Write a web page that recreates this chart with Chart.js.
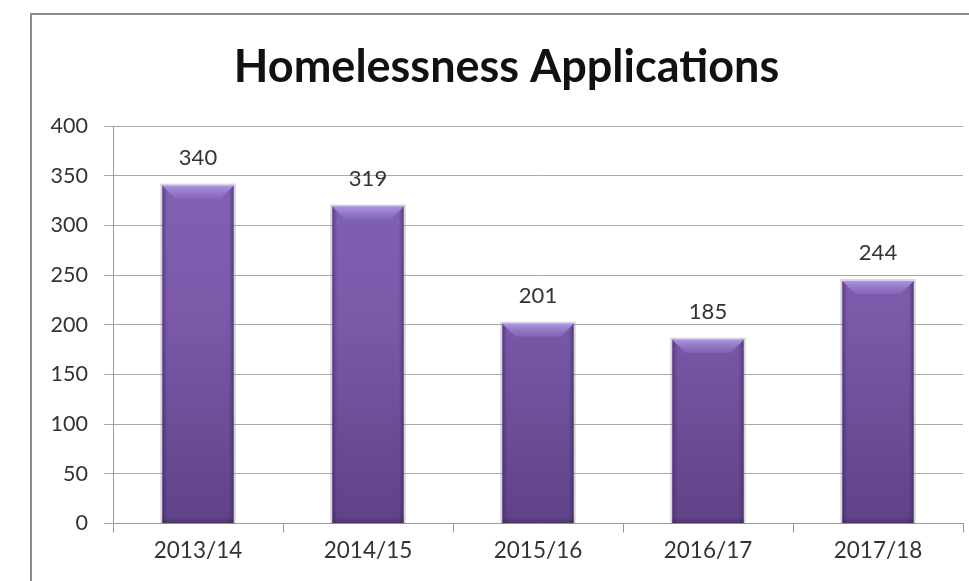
<!DOCTYPE html>
<html>
<head>
<meta charset="utf-8">
<script src="https://cdn.jsdelivr.net/npm/chart.js@4"></script>
<style>
  html, body { margin: 0; padding: 0; background: #fff; overflow: hidden; }
  #wrap { position: relative; width: 969px; height: 581px; }
  #frame { position: absolute; left: 30px; top: 13px; width: 1000px; height: 700px; border: 2px solid #8c8c8c; box-sizing: border-box; }
  #chart { position: absolute; left: 0; top: 0; }
</style>
</head>
<body>
<div id="wrap">
  <div id="frame"></div>
  <canvas id="chart" width="969" height="581"></canvas>
</div>
<script>
const years = ["2013/14", "2014/15", "2015/16", "2016/17", "2017/18"];
const applications = [340, 319, 201, 185, 244];
const yTicks = [0, 50, 100, 150, 200, 250, 300, 350, 400];

const FONT = "Lato, 'Open Sans', sans-serif";

function barFill(ctx) {
  const area = ctx.chart.chartArea;
  if (!area) return "#7a5aa8";
  const g = ctx.chart.ctx.createLinearGradient(0, area.top, 0, area.bottom);
  g.addColorStop(0, "#8464b5");
  g.addColorStop(0.5, "#7959a8");
  g.addColorStop(1, "#5f4287");
  return g;
}

// bevelled top, shaded sides and value labels
const bevelPlugin = {
  id: "bevel",
  beforeDatasetsDraw(chart) {
    const c = chart.ctx;
    chart.getDatasetMeta(0).data.forEach((bar) => {
      const l = bar.x - bar.width / 2;
      c.save();
      c.strokeStyle = "rgba(120,120,120,0.3)";
      c.lineWidth = 2;
      c.strokeRect(l - 1, bar.y - 1, bar.width + 2, bar.base - bar.y + 1);
      c.restore();
    });
  },
  afterDatasetsDraw(chart) {
    const c = chart.ctx;
    const meta = chart.getDatasetMeta(0);
    meta.data.forEach((bar, i) => {
      const l = bar.x - bar.width / 2;
      const r = bar.x + bar.width / 2;
      const t = bar.y;
      const b = bar.base;
      const d = 13;
      const s = 5;
      c.save();
      // side edges
      const lg = c.createLinearGradient(l, 0, l + s, 0);
      lg.addColorStop(0, "rgba(55,30,90,0.5)");
      lg.addColorStop(1, "rgba(55,30,90,0)");
      c.fillStyle = lg;
      c.fillRect(l, t, s, b - t);
      const rg = c.createLinearGradient(r - s, 0, r, 0);
      rg.addColorStop(0, "rgba(55,30,90,0)");
      rg.addColorStop(1, "rgba(55,30,90,0.5)");
      c.fillStyle = rg;
      c.fillRect(r - s, t, s, b - t);
      // bottom edge
      const bg = c.createLinearGradient(0, b - 6, 0, b);
      bg.addColorStop(0, "rgba(55,30,90,0)");
      bg.addColorStop(1, "rgba(55,30,90,0.4)");
      c.fillStyle = bg;
      c.fillRect(l, b - 6, bar.width, 6);
      // top bevel
      const tg = c.createLinearGradient(0, t, 0, t + d);
      tg.addColorStop(0, "#ad95e2");
      tg.addColorStop(1, "rgba(150,122,205,0.35)");
      c.fillStyle = tg;
      c.beginPath();
      c.moveTo(l, t);
      c.lineTo(r, t);
      c.lineTo(r - d, t + d);
      c.lineTo(l + d, t + d);
      c.closePath();
      c.fill();
      // value label
      c.fillStyle = "#333";
      c.font = "22px " + FONT;
      c.textAlign = "center";
      c.textBaseline = "middle";
      c.fillText(String(applications[i]), bar.x, t - 28);
      c.restore();
    });
  }
};

new Chart(document.getElementById("chart"), {
  type: "bar",
  data: {
    labels: years,
    datasets: [{
      data: applications,
      backgroundColor: barFill,
      borderWidth: 0,
      categoryPercentage: 1,
      barPercentage: 0.42
    }]
  },
  options: {
    responsive: false,
    animation: false,
    layout: { padding: { left: 50, right: 6, top: 0, bottom: 0 } },
    plugins: {
      legend: { display: false },
      tooltip: { enabled: false },
      title: {
        display: true,
        text: "Homelessness Applications",
        color: "#111",
        font: { family: FONT, size: 45, weight: "bold" },
        padding: { top: 40, bottom: 32 }
      }
    },
    scales: {
      x: {
        grid: { offset: true, drawOnChartArea: false, drawTicks: true, tickLength: 9, color: "#9a9a9a" },
        border: { color: "#9a9a9a" },
        ticks: { color: "#333", font: { family: FONT, size: 22.5 }, padding: 5 },
        afterFit(scale) { scale.height = 57.5; }
      },
      y: {
        min: 0,
        max: 400,
        afterBuildTicks(scale) { scale.ticks = yTicks.map((v) => ({ value: v })); },
        grid: { color: "#a8a8a8", tickLength: 9 },
        border: { color: "#9a9a9a" },
        ticks: { color: "#333", font: { family: FONT, size: 21.5 }, padding: 16 },
        afterFit(scale) { scale.width = 63; }
      }
    }
  },
  plugins: [bevelPlugin]
});
</script>
</body>
</html>
